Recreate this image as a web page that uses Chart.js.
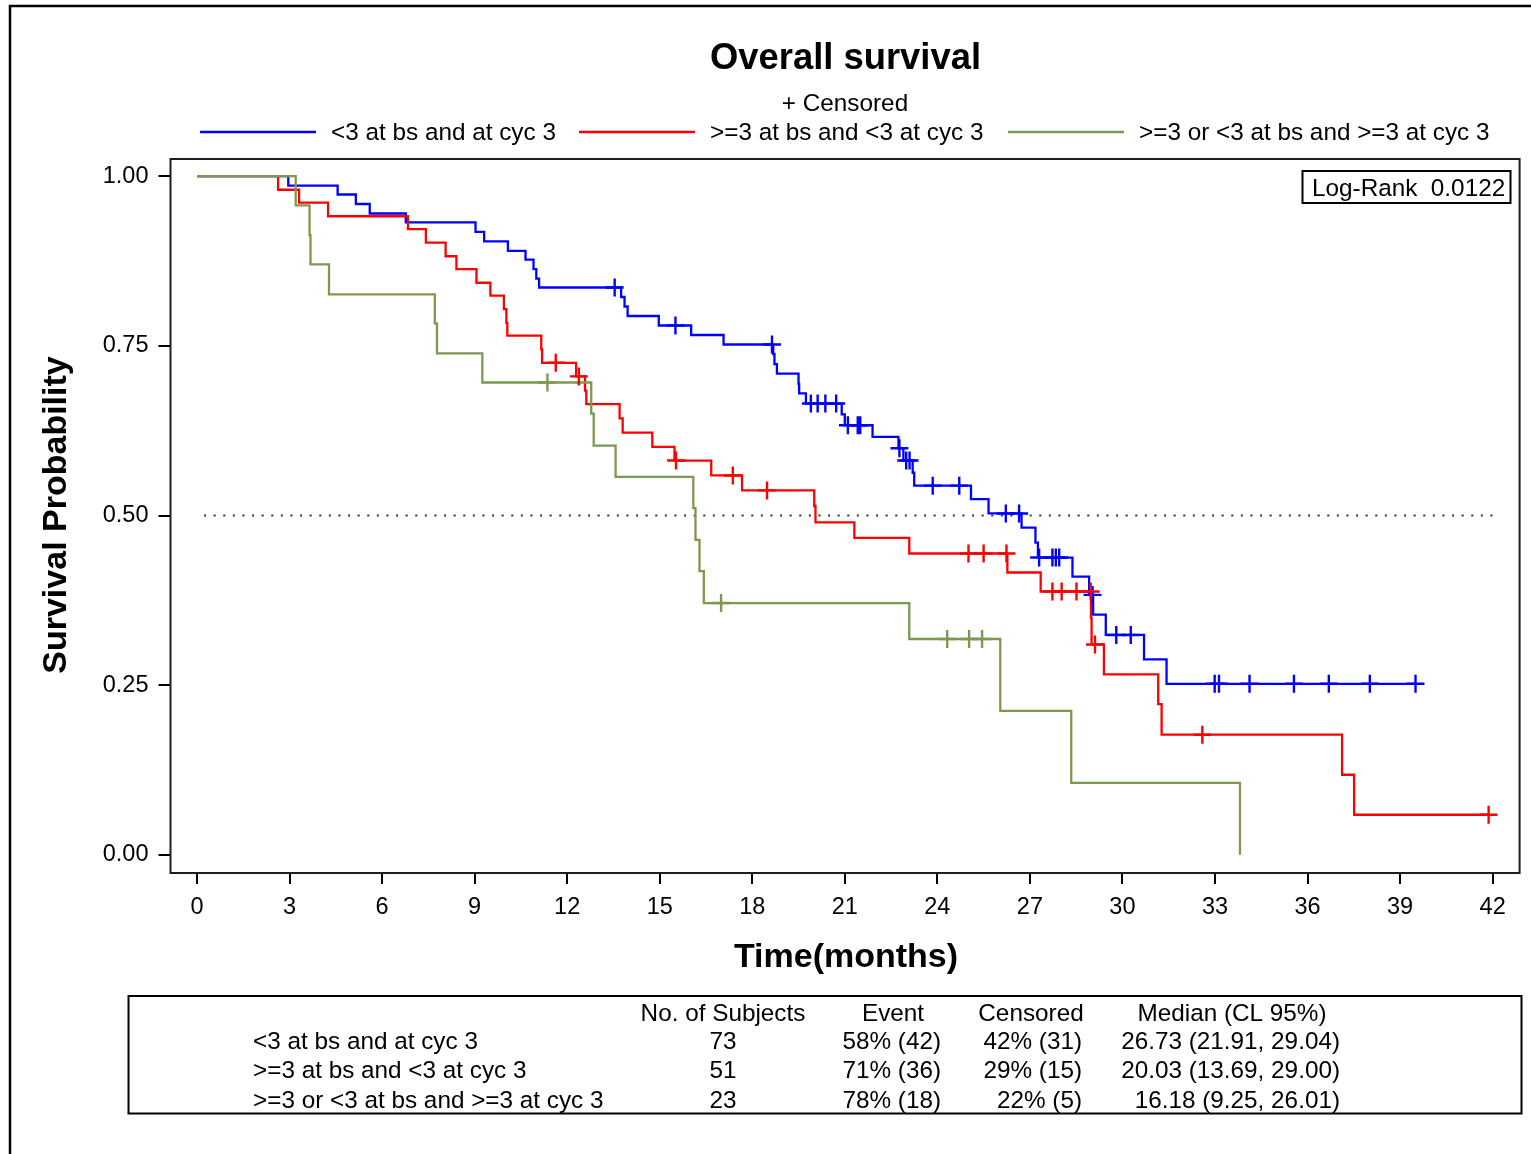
<!DOCTYPE html>
<html><head><meta charset="utf-8">
<script src="https://cdn.jsdelivr.net/npm/chart.js@4.4.1/dist/chart.umd.min.js"></script>
<style>html,body{margin:0;padding:0;background:#fff;}canvas{display:block;}</style>
</head><body>
<canvas id="c" width="1531" height="1154"></canvas>
<script>
const FONT = "'Liberation Sans', Arial, Helvetica, sans-serif";

const chartTitle = "Overall survival";
const xAxisTitle = "Time(months)";
const yAxisTitle = "Survival Probability";
const logRankText = "Log-Rank  0.0122";
const groupNames = ["<3 at bs and at cyc 3", ">=3 at bs and <3 at cyc 3", ">=3 or <3 at bs and >=3 at cyc 3"];
const groupColors = ["#0000FF", "#FF0000", "#7D9850"];

const xTicks = [0, 3, 6, 9, 12, 15, 18, 21, 24, 27, 30, 33, 36, 39, 42];
const yTicks = [0, 0.25, 0.5, 0.75, 1];

// Group 1 (blue): event times and survival after each event
const blueTimes = [2.96, 4.56, 5.15, 5.60, 6.77, 9.03, 9.31, 10.08, 10.65, 10.91, 11.00, 11.09, 13.75, 13.86, 13.96, 14.97, 16.02, 17.07, 18.68, 18.72, 18.80, 19.50, 19.52, 19.74, 20.90, 21.00, 21.90, 22.74, 22.90, 23.20, 23.25, 25.09, 25.66, 26.73, 27.18, 27.26, 28.38, 28.92, 29.05, 29.46, 30.70, 31.43, 39.50];
const blueSurv  = [0.986, 0.973, 0.959, 0.945, 0.932, 0.918, 0.904, 0.890, 0.877, 0.863, 0.849, 0.836, 0.822, 0.808, 0.794, 0.780, 0.766, 0.752, 0.738, 0.723, 0.709, 0.694, 0.680, 0.665, 0.649, 0.633, 0.616, 0.599, 0.581, 0.563, 0.544, 0.524, 0.503, 0.482, 0.460, 0.438, 0.410, 0.383, 0.354, 0.324, 0.288, 0.252, 0.252];
const blueCensT = [13.54, 15.51, 18.64, 19.90, 20.12, 20.37, 20.72, 21.10, 21.42, 21.50, 22.77, 22.99, 23.10, 23.85, 24.71, 26.22, 26.65, 27.30, 27.73, 27.84, 27.95, 29.03, 29.80, 30.27, 32.99, 33.13, 34.12, 35.56, 36.69, 38.02, 39.50];
const blueCensS = [0.836, 0.780, 0.752, 0.665, 0.665, 0.665, 0.665, 0.633, 0.633, 0.633, 0.599, 0.581, 0.581, 0.544, 0.544, 0.503, 0.503, 0.438, 0.438, 0.438, 0.438, 0.383, 0.324, 0.324, 0.252, 0.252, 0.252, 0.252, 0.252, 0.252, 0.252];

// Group 2 (red)
const redTimes = [2.63, 3.31, 4.25, 6.84, 7.42, 8.06, 8.41, 9.06, 9.51, 9.95, 10.03, 10.06, 11.16, 11.19, 12.29, 12.58, 12.62, 13.70, 13.80, 14.76, 15.48, 16.67, 17.67, 20.01, 20.05, 21.31, 23.09, 26.27, 27.35, 28.98, 29.00, 29.40, 31.16, 31.27, 37.12, 37.51, 41.87];
const redSurv  = [0.980, 0.961, 0.941, 0.922, 0.902, 0.882, 0.863, 0.843, 0.824, 0.804, 0.784, 0.765, 0.745, 0.725, 0.705, 0.684, 0.664, 0.643, 0.622, 0.601, 0.581, 0.559, 0.537, 0.514, 0.490, 0.467, 0.444, 0.416, 0.388, 0.349, 0.310, 0.266, 0.222, 0.177, 0.118, 0.059, 0.059];
const redCensT = [11.63, 12.38, 15.53, 17.37, 18.48, 25.01, 25.50, 26.24, 27.73, 28.03, 28.51, 28.97, 29.11, 32.59, 41.87];
const redCensS = [0.725, 0.705, 0.581, 0.559, 0.537, 0.444, 0.444, 0.444, 0.388, 0.388, 0.388, 0.388, 0.310, 0.177, 0.059];

// Group 3 (green)
const greenTimes = [3.20, 3.65, 3.68, 4.28, 7.71, 7.78, 9.25, 12.78, 12.86, 13.57, 16.09, 16.16, 16.29, 16.43, 23.09, 26.04, 28.34, 33.81];
const greenSurv  = [0.957, 0.913, 0.870, 0.826, 0.783, 0.739, 0.696, 0.650, 0.603, 0.557, 0.511, 0.464, 0.418, 0.371, 0.318, 0.212, 0.106, 0.000];
const greenCensT = [11.36, 16.99, 24.32, 25.03, 25.45];
const greenCensS = [0.696, 0.371, 0.318, 0.318, 0.318];

const refLineX = [0.23, 42.06];
const refLineY = [0.5, 0.5];

// Summary table
const tableHeaders = ["No. of Subjects", "Event", "Censored", "Median (CL 95%)"];
const tableSubjects = ["73", "51", "23"];
const tableEvent = ["58% (42)", "71% (36)", "78% (18)"];
const tableCensored = ["42% (31)", "29% (15)", "22% (5)"];
const tableMedian = ["26.73 (21.91, 29.04)", "20.03 (13.69, 29.00)", "16.18 (9.25, 26.01)"];

function stepPoints(times, surv) {
  const pts = [{x: 0, y: 1}];
  times.forEach((t, i) => pts.push({x: t, y: surv[i]}));
  return pts;
}
function pairPoints(xs, ys) { return xs.map((x, i) => ({x: x, y: ys[i]})); }

const curves = [
  {times: blueTimes, surv: blueSurv, ct: blueCensT, cs: blueCensS},
  {times: redTimes, surv: redSurv, ct: redCensT, cs: redCensS},
  {times: greenTimes, surv: greenSurv, ct: greenCensT, cs: greenCensS}
];

const datasets = [];
[2, 1, 0].forEach(g => {
  datasets.push({
    data: pairPoints(curves[g].ct, curves[g].cs),
    showLine: false, pointStyle: 'cross', pointRadius: 9, pointHoverRadius: 9,
    pointBorderWidth: 2.4, pointBorderColor: groupColors[g], borderColor: groupColors[g],
    backgroundColor: groupColors[g]
  });
});
[2, 1, 0].forEach(g => {
  datasets.push({
    data: stepPoints(curves[g].times, curves[g].surv),
    stepped: 'before', borderColor: groupColors[g], borderWidth: 2.3, pointRadius: 0,
    fill: false, tension: 0
  });
});
datasets.push({
  data: pairPoints(refLineX, refLineY), borderColor: '#333', borderWidth: 2,
  borderDash: [2, 7.6], pointRadius: 0, fill: false
});

const X0PX = 197, X42PX = 1494, LEFT = 170.5, RIGHT = 1521, TOP = 159, BOTTOM = 873;
const Y1PX = 176.2, Y0PX = 854.8;
const pxPerX = (X42PX - X0PX) / 42;
const pxPerY = (Y0PX - Y1PX);
const xMin = -(X0PX - LEFT) / pxPerX;
const xMax = 42 + (RIGHT - X42PX) / pxPerX;
const yMin = -(BOTTOM - Y0PX) / pxPerY;
const yMax = 1 + (Y1PX - TOP) / pxPerY;

const decor = {
  id: 'decor',
  afterDraw(chart) {
    const ctx = chart.ctx, a = chart.chartArea;
    ctx.save();
    ctx.strokeStyle = '#000'; ctx.lineWidth = 2.5;
    ctx.beginPath(); ctx.moveTo(10, 1154); ctx.lineTo(10, 6); ctx.lineTo(1531, 6); ctx.stroke();
    ctx.lineWidth = 2; ctx.strokeStyle = '#1e1e1e';
    ctx.strokeRect(a.left, a.top, a.right - a.left, a.bottom - a.top);
    ctx.fillStyle = '#000';
    ctx.textBaseline = 'alphabetic';
    ctx.font = "bold 36.4px " + FONT; ctx.textAlign = 'center';
    ctx.fillText(chartTitle, 845.5, 69);
    ctx.font = "24.3px " + FONT;
    ctx.fillText("+ Censored", 845, 111);
    ctx.textAlign = 'left';
    const legX = [[200, 316, 331], [579, 695, 710], [1008, 1124, 1139]];
    legX.forEach((l, i) => {
      ctx.strokeStyle = groupColors[i]; ctx.lineWidth = 2.5;
      ctx.beginPath(); ctx.moveTo(l[0], 132); ctx.lineTo(l[1], 132); ctx.stroke();
      ctx.fillStyle = '#000';
      ctx.fillText(groupNames[i], l[2], 140);
    });
    ctx.strokeStyle = '#000'; ctx.lineWidth = 2;
    ctx.strokeRect(1302.5, 171, 208, 32);
    ctx.fillText(logRankText, 1312, 196);
    ctx.font = "bold 34px " + FONT; ctx.textAlign = 'center';
    ctx.fillText(xAxisTitle, 846, 967);
    ctx.save(); ctx.translate(66, 515); ctx.rotate(-Math.PI / 2);
    ctx.fillText(yAxisTitle, 0, 0); ctx.restore();
    ctx.strokeStyle = '#000'; ctx.lineWidth = 2;
    ctx.strokeRect(128.5, 996, 1393, 117.5);
    ctx.font = "24.3px " + FONT;
    const hdrX = [723, 893, 1031, 1232];
    ctx.textAlign = 'center';
    tableHeaders.forEach((h, i) => ctx.fillText(h, hdrX[i], 1021));
    const rowY = [1049, 1078, 1108];
    groupNames.forEach((n, r) => {
      ctx.textAlign = 'left'; ctx.fillText(n, 253, rowY[r]);
      ctx.textAlign = 'center'; ctx.fillText(tableSubjects[r], 723, rowY[r]);
      ctx.textAlign = 'right';
      ctx.fillText(tableEvent[r], 941, rowY[r]);
      ctx.fillText(tableCensored[r], 1082, rowY[r]);
      ctx.fillText(tableMedian[r], 1340, rowY[r]);
    });
    ctx.restore();
  }
};

new Chart(document.getElementById('c'), {
  type: 'line',
  data: { datasets: datasets },
  options: {
    responsive: false, animation: false, devicePixelRatio: 1,
    layout: { padding: { left: 0, top: TOP, right: 1531 - RIGHT, bottom: 1154 - BOTTOM - 60 } },
    plugins: { legend: { display: false }, title: { display: false }, tooltip: { enabled: false } },
    elements: { line: { borderCapStyle: 'butt', borderJoinStyle: 'miter' } },
    scales: {
      x: {
        type: 'linear', min: xMin, max: xMax,
        afterBuildTicks: s => { s.ticks = xTicks.map(v => ({value: v})); },
        afterFit: s => { s.height = 60; },
        grid: { drawOnChartArea: false, drawTicks: true, tickLength: 11, color: '#000', lineWidth: 2 },
        border: { display: false },
        ticks: { font: { family: FONT, size: 23.5 }, color: '#000', padding: 9, maxRotation: 0, autoSkip: false,
                 callback: v => String(v) }
      },
      y: {
        type: 'linear', min: yMin, max: yMax,
        afterBuildTicks: s => { s.ticks = yTicks.map(v => ({value: v})); },
        afterFit: s => { s.width = LEFT; },
        grid: { drawOnChartArea: false, drawTicks: true, tickLength: 12, color: '#000', lineWidth: 2 },
        border: { display: false },
        ticks: { font: { family: FONT, size: 23.5 }, color: '#000', padding: 10, autoSkip: false,
                 callback: v => Number(v).toFixed(2) }
      }
    }
  },
  plugins: [decor]
});
</script>
</body></html>
